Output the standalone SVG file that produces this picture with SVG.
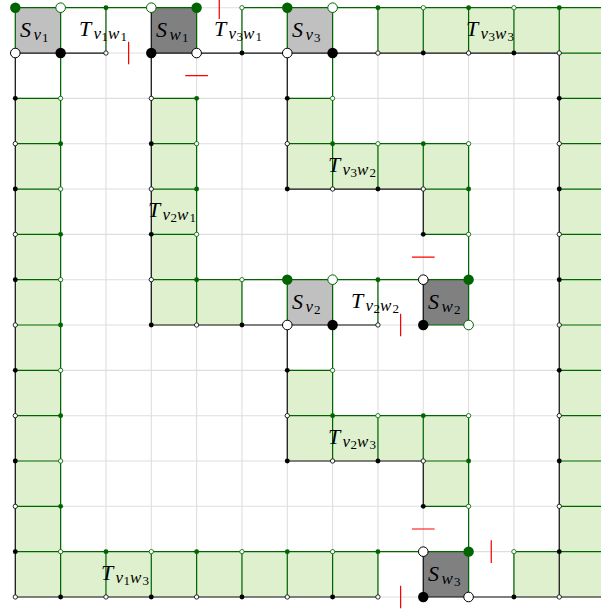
<svg xmlns="http://www.w3.org/2000/svg" width="601" height="615" viewBox="0 0 601 615">
<style>
.gl{stroke:#dedede;stroke-width:0.024;fill:none}
.g{stroke:#006400;stroke-width:0.027;fill:none}
.k{stroke:#111;stroke-width:0.027;fill:none}
.f{fill:#dff0ce}
.sv{fill:#c0c0c0}
.sw{fill:#808080}
.r{stroke:#ff0000;stroke-width:0.027;fill:none}
.t{font-family:"Liberation Serif","Times New Roman",serif;font-size:22px;font-style:italic;fill:#000}
.s{font-size:17px}
.d{font-size:13px;font-style:normal}
</style>
<defs>
<circle id="BG" r="0.115" fill="#006400"/>
<circle id="BK" r="0.115" fill="#000"/>
<circle id="BWG" r="0.106" fill="#fff" stroke="#006400" stroke-width="0.022"/>
<circle id="BWK" r="0.106" fill="#fff" stroke="#000" stroke-width="0.022"/>
<circle id="sG" r="0.054" fill="#006400"/>
<circle id="sK" r="0.054" fill="#000"/>
<circle id="sWG" r="0.048" fill="#fff" stroke="#006400" stroke-width="0.018"/>
<circle id="sWK" r="0.048" fill="#fff" stroke="#000" stroke-width="0.018"/>
</defs>
<rect width="601" height="615" fill="#fff"/>
<g id="grid" transform="translate(15.3 7.7) scale(45.33)">
<path class="gl" d="M0 0V13M1 0V13M2 0V13M3 0V13M4 0V13M5 0V13M6 0V13M7 0V13M8 0V13M9 0V13M10 0V13M11 0V13M12 0V13M13 0V13M0 0H13M0 1H13M0 2H13M0 3H13M0 4H13M0 5H13M0 6H13M0 7H13M0 8H13M0 9H13M0 10H13M0 11H13M0 12H13M0 13H13"/>
</g>

<g id="T_v1w1">
<g transform="translate(15.3 7.7) scale(45.33)">
<path class="g" d="M1 0H3M2 0V1"/><path class="k" d="M1 1H2"/>
<use href="#sG" x="2" y="0"/><use href="#sWK" x="2" y="1"/>
</g>
<text class="t"><tspan x="79" y="36">T</tspan><tspan class="s" x="93.5" y="39">v</tspan><tspan class="d" x="101.5" y="40.5">1</tspan><tspan class="s" x="108" y="39">w</tspan><tspan class="d" x="120.5" y="40.5">1</tspan></text>
</g>

<g id="T_v3w1">
<g transform="translate(15.3 7.7) scale(45.33)">
<path class="g" d="M5 0H6M5 0V1"/><path class="k" d="M4 1H6"/>
<use href="#sWG" x="5" y="0"/><use href="#sK" x="5" y="1"/>
</g>
<text class="t"><tspan x="214" y="36">T</tspan><tspan class="s" x="228.5" y="39">v</tspan><tspan class="d" x="236.5" y="40.5">3</tspan><tspan class="s" x="243" y="39">w</tspan><tspan class="d" x="255.5" y="40.5">1</tspan></text>
</g>

<g id="T_v3w3">
<g transform="translate(15.3 7.7) scale(45.33)">
<rect class="f" x="8" y="0" width="5" height="1"/><rect class="f" x="12" y="1" width="1" height="12"/><rect class="f" x="11" y="12" width="1" height="1"/>
<path class="g" d="M7 0H13M8 0V1M9 0V1M10 0V1M11 0V1M12 0V1M12 1H13M12 2H13M12 3H13M12 4H13M12 5H13M12 6H13M12 7H13M12 8H13M12 9H13M12 10H13M12 11H13M11 12H13M11 12V13"/>
<path class="k" d="M7 1H12V13M10 13H13"/>
<use href="#sG" x="8" y="0"/><use href="#sWG" x="9" y="0"/><use href="#sG" x="10" y="0"/><use href="#sWG" x="11" y="0"/><use href="#sG" x="12" y="0"/>
<use href="#sWK" x="8" y="1"/><use href="#sK" x="9" y="1"/><use href="#sWK" x="10" y="1"/><use href="#sK" x="11" y="1"/><use href="#sWK" x="12" y="1"/>
<use href="#sK" x="12" y="2"/><use href="#sWK" x="12" y="3"/><use href="#sK" x="12" y="4"/><use href="#sWK" x="12" y="5"/><use href="#sK" x="12" y="6"/><use href="#sWK" x="12" y="7"/><use href="#sK" x="12" y="8"/><use href="#sWK" x="12" y="9"/><use href="#sK" x="12" y="10"/><use href="#sWK" x="12" y="11"/><use href="#sK" x="12" y="12"/><use href="#sWK" x="12" y="13"/>
<use href="#sWG" x="11" y="12"/><use href="#sK" x="11" y="13"/>
</g>
<text class="t"><tspan x="466" y="36">T</tspan><tspan class="s" x="480.5" y="39">v</tspan><tspan class="d" x="488.5" y="40.5">3</tspan><tspan class="s" x="495" y="39">w</tspan><tspan class="d" x="507.5" y="40.5">3</tspan></text>
</g>

<g id="T_v1w3">
<g transform="translate(15.3 7.7) scale(45.33)">
<rect class="f" x="0" y="2" width="1" height="11"/><rect class="f" x="1" y="12" width="7" height="1"/>
<path class="g" d="M1 1V12H9M0 2H1M0 3H1M0 4H1M0 5H1M0 6H1M0 7H1M0 8H1M0 9H1M0 10H1M0 11H1M0 12H1M1 12V13M2 12V13M3 12V13M4 12V13M5 12V13M6 12V13M7 12V13M8 12V13"/>
<path class="k" d="M0 1V13H8"/>
<use href="#sK" x="0" y="2"/><use href="#sWK" x="0" y="3"/><use href="#sK" x="0" y="4"/><use href="#sWK" x="0" y="5"/><use href="#sK" x="0" y="6"/><use href="#sWK" x="0" y="7"/><use href="#sK" x="0" y="8"/><use href="#sWK" x="0" y="9"/><use href="#sK" x="0" y="10"/><use href="#sWK" x="0" y="11"/><use href="#sK" x="0" y="12"/><use href="#sWK" x="0" y="13"/>
<use href="#sWG" x="1" y="2"/><use href="#sG" x="1" y="3"/><use href="#sWG" x="1" y="4"/><use href="#sG" x="1" y="5"/><use href="#sWG" x="1" y="6"/><use href="#sG" x="1" y="7"/><use href="#sWG" x="1" y="8"/><use href="#sG" x="1" y="9"/><use href="#sWG" x="1" y="10"/><use href="#sG" x="1" y="11"/><use href="#sWG" x="1" y="12"/>
<use href="#sG" x="2" y="12"/><use href="#sWG" x="3" y="12"/><use href="#sG" x="4" y="12"/><use href="#sWG" x="5" y="12"/><use href="#sG" x="6" y="12"/><use href="#sWG" x="7" y="12"/><use href="#sG" x="8" y="12"/>
<use href="#sK" x="1" y="13"/><use href="#sWK" x="2" y="13"/><use href="#sK" x="3" y="13"/><use href="#sWK" x="4" y="13"/><use href="#sK" x="5" y="13"/><use href="#sWK" x="6" y="13"/><use href="#sK" x="7" y="13"/><use href="#sWK" x="8" y="13"/>
</g>
<text class="t"><tspan x="101" y="580">T</tspan><tspan class="s" x="115.5" y="583">v</tspan><tspan class="d" x="123.5" y="584.5">1</tspan><tspan class="s" x="130" y="583">w</tspan><tspan class="d" x="142.5" y="584.5">3</tspan></text>
</g>

<g id="T_v2w1">
<g transform="translate(15.3 7.7) scale(45.33)">
<rect class="f" x="3" y="2" width="1" height="5"/><rect class="f" x="4" y="6" width="1" height="1"/>
<path class="g" d="M4 2V6H6M3 2H4M3 3H4M3 4H4M3 5H4M3 6H4M4 6V7M5 6V7"/>
<path class="k" d="M3 1V7H6"/>
<use href="#sWK" x="3" y="2"/><use href="#sK" x="3" y="3"/><use href="#sWK" x="3" y="4"/><use href="#sK" x="3" y="5"/><use href="#sWK" x="3" y="6"/><use href="#sK" x="3" y="7"/>
<use href="#sG" x="4" y="2"/><use href="#sWG" x="4" y="3"/><use href="#sG" x="4" y="4"/><use href="#sWG" x="4" y="5"/><use href="#sG" x="4" y="6"/><use href="#sWK" x="4" y="7"/>
<use href="#sWG" x="5" y="6"/><use href="#sK" x="5" y="7"/>
</g>
<text class="t"><tspan x="148" y="217">T</tspan><tspan class="s" x="162.5" y="220">v</tspan><tspan class="d" x="170.5" y="221.5">2</tspan><tspan class="s" x="177" y="220">w</tspan><tspan class="d" x="189.5" y="221.5">1</tspan></text>
</g>

<g id="T_v3w2">
<g transform="translate(15.3 7.7) scale(45.33)">
<rect class="f" x="6" y="2" width="1" height="2"/><rect class="f" x="7" y="3" width="3" height="1"/><rect class="f" x="9" y="4" width="1" height="1"/>
<path class="g" d="M7 1V3H10V6M6 2H7M6 3H7M7 3V4M8 3V4M9 3V4M9 4H10M9 5H10"/>
<path class="k" d="M6 1V4H9V5"/>
<use href="#sK" x="6" y="2"/><use href="#sWK" x="6" y="3"/><use href="#sK" x="6" y="4"/>
<use href="#sWG" x="7" y="2"/><use href="#sG" x="7" y="3"/><use href="#sWK" x="7" y="4"/>
<use href="#sWG" x="8" y="3"/><use href="#sK" x="8" y="4"/>
<use href="#sG" x="9" y="3"/><use href="#sWG" x="10" y="3"/><use href="#sWK" x="9" y="4"/><use href="#sG" x="10" y="4"/><use href="#sK" x="9" y="5"/><use href="#sWG" x="10" y="5"/>
</g>
<text class="t"><tspan x="328" y="172">T</tspan><tspan class="s" x="342.5" y="175">v</tspan><tspan class="d" x="350.5" y="176.5">3</tspan><tspan class="s" x="357" y="175">w</tspan><tspan class="d" x="369.5" y="176.5">2</tspan></text>
</g>

<g id="T_v2w2">
<g transform="translate(15.3 7.7) scale(45.33)">
<path class="g" d="M7 6H9M8 6V7"/><path class="k" d="M7 7H8"/>
<use href="#sG" x="8" y="6"/><use href="#sWK" x="8" y="7"/>
</g>
<text class="t"><tspan x="351" y="308">T</tspan><tspan class="s" x="365.5" y="311">v</tspan><tspan class="d" x="373.5" y="312.5">2</tspan><tspan class="s" x="380" y="311">w</tspan><tspan class="d" x="392.5" y="312.5">2</tspan></text>
</g>

<g id="T_v2w3">
<g transform="translate(15.3 7.7) scale(45.33)">
<rect class="f" x="6" y="8" width="1" height="2"/><rect class="f" x="7" y="9" width="3" height="1"/><rect class="f" x="9" y="10" width="1" height="1"/>
<path class="g" d="M7 7V9H10V12M6 8H7M6 9H7M7 9V10M8 9V10M9 9V10M9 10H10M9 11H10"/>
<path class="k" d="M6 7V10H9V11"/>
<use href="#sK" x="6" y="8"/><use href="#sWK" x="6" y="9"/><use href="#sK" x="6" y="10"/>
<use href="#sWG" x="7" y="8"/><use href="#sG" x="7" y="9"/><use href="#sWK" x="7" y="10"/>
<use href="#sWG" x="8" y="9"/><use href="#sK" x="8" y="10"/>
<use href="#sG" x="9" y="9"/><use href="#sWK" x="9" y="10"/><use href="#sWG" x="10" y="9"/><use href="#sG" x="10" y="10"/><use href="#sK" x="9" y="11"/><use href="#sWG" x="10" y="11"/>
</g>
<text class="t"><tspan x="328" y="444">T</tspan><tspan class="s" x="342.5" y="447">v</tspan><tspan class="d" x="350.5" y="448.5">2</tspan><tspan class="s" x="357" y="447">w</tspan><tspan class="d" x="369.5" y="448.5">3</tspan></text>
</g>

<g id="S_v1">
<g transform="translate(15.3 7.7) scale(45.33)">
<rect class="sv" x="0" y="0" width="1" height="1"/>
<path class="g" d="M0 1V0H1V1"/><path class="k" d="M0 1H1"/>
<use href="#BG" x="0" y="0"/><use href="#BWG" x="1" y="0"/><use href="#BWK" x="0" y="1"/><use href="#BK" x="1" y="1"/>
</g>
<text class="t"><tspan x="20" y="37">S</tspan><tspan class="s" x="33.5" y="40">v</tspan><tspan class="d" x="42" y="41.5">1</tspan></text>
</g>

<g id="S_w1">
<g transform="translate(15.3 7.7) scale(45.33)">
<rect class="sw" x="3" y="0" width="1" height="1"/>
<path class="g" d="M3 0H4V1"/><path class="k" d="M3 0V1H4"/>
<use href="#BWG" x="3" y="0"/><use href="#BG" x="4" y="0"/><use href="#BK" x="3" y="1"/><use href="#BWK" x="4" y="1"/>
</g>
<text class="t"><tspan x="156" y="37">S</tspan><tspan class="s" x="169.5" y="40">w</tspan><tspan class="d" x="182" y="41.5">1</tspan></text>
</g>

<g id="S_v3">
<g transform="translate(15.3 7.7) scale(45.33)">
<rect class="sv" x="6" y="0" width="1" height="1"/>
<path class="g" d="M6 1V0H7V1"/><path class="k" d="M6 1H7"/>
<use href="#BG" x="6" y="0"/><use href="#BWG" x="7" y="0"/><use href="#BWK" x="6" y="1"/><use href="#BK" x="7" y="1"/>
</g>
<text class="t"><tspan x="292" y="37">S</tspan><tspan class="s" x="305.5" y="40">v</tspan><tspan class="d" x="314" y="41.5">3</tspan></text>
</g>

<g id="S_v2">
<g transform="translate(15.3 7.7) scale(45.33)">
<rect class="sv" x="6" y="6" width="1" height="1"/>
<path class="g" d="M6 7V6H7V7"/><path class="k" d="M6 7H7"/>
<use href="#BG" x="6" y="6"/><use href="#BWG" x="7" y="6"/><use href="#BWK" x="6" y="7"/><use href="#BK" x="7" y="7"/>
</g>
<text class="t"><tspan x="292" y="309">S</tspan><tspan class="s" x="305.5" y="312">v</tspan><tspan class="d" x="314" y="313.5">2</tspan></text>
</g>

<g id="S_w2">
<g transform="translate(15.3 7.7) scale(45.33)">
<rect class="sw" x="9" y="6" width="1" height="1"/>
<path class="g" d="M9 6H10V7H9"/><path class="k" d="M9 6V7"/>
<use href="#BWK" x="9" y="6"/><use href="#BG" x="10" y="6"/><use href="#BK" x="9" y="7"/><use href="#BWG" x="10" y="7"/>
</g>
<text class="t"><tspan x="428" y="309">S</tspan><tspan class="s" x="441.5" y="312">w</tspan><tspan class="d" x="454" y="313.5">2</tspan></text>
</g>

<g id="S_w3">
<g transform="translate(15.3 7.7) scale(45.33)">
<rect class="sw" x="9" y="12" width="1" height="1"/>
<path class="g" d="M9 12H10V13"/><path class="k" d="M9 12V13H10"/>
<use href="#BWK" x="9" y="12"/><use href="#BG" x="10" y="12"/><use href="#BK" x="9" y="13"/><use href="#BWK" x="10" y="13"/>
</g>
<text class="t"><tspan x="428" y="581">S</tspan><tspan class="s" x="441.5" y="584">w</tspan><tspan class="d" x="454" y="585.5">3</tspan></text>
</g>

<g id="connectors" transform="translate(15.3 7.7) scale(45.33)">
<path class="r" d="M2.5 0.75V1.25M3.75 1.5H4.25M4.5 -0.25V0.25M8.75 5.5H9.25M8.5 6.75V7.25M8.75 11.5H9.25M10.5 11.75V12.25M8.5 12.75V13.25"/>
</g>
</svg>
